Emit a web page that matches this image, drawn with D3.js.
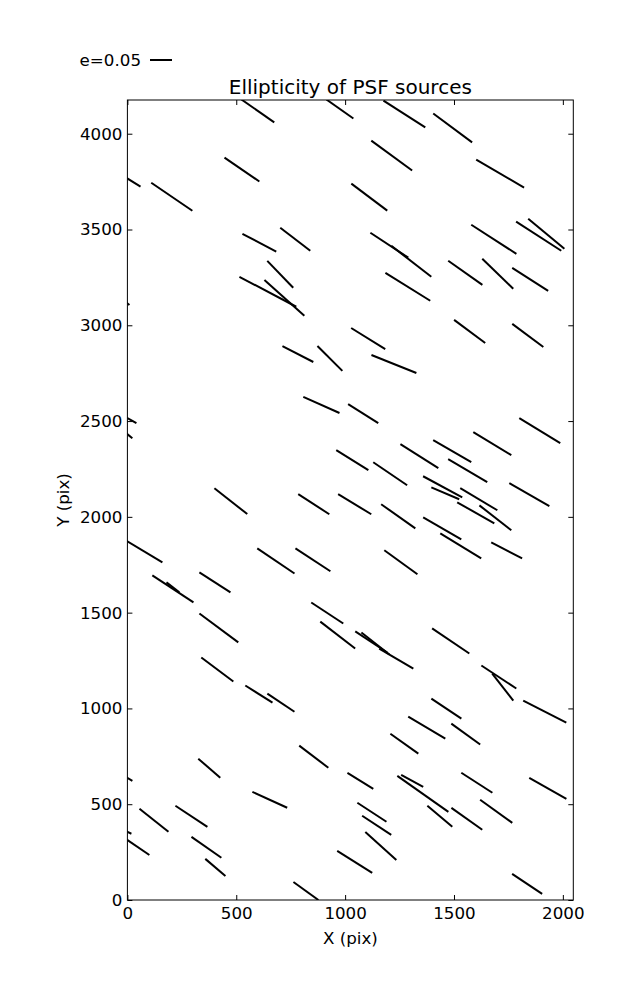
<!DOCTYPE html>
<html><head><meta charset="utf-8">
<script src="https://cdn.jsdelivr.net/npm/d3@7"></script>
<style>body{margin:0;background:#fff}svg text{font-family:"DejaVu Sans",sans-serif}</style>
</head><body>
<svg id="c" width="637" height="1000"></svg>
<script>
// Source centres (pix), ellipticity and position angle (deg, screen frame)
const srcX=[599,976,1272,1494,1214,526,1712,-18,204,1111,606,771,1203,1304,1683,1889,1924,702,645,721,1288,1552,1701,1850,-64,1572,1839,1106,783,930,1224,891,1083,-39,-49,1894,1676,1492,1341,1033,1207,1563,1448,1460,1614,1600,1690,1846,475,856,1044,1244,1446,1531,1742,62,682,852,1256,209,209,402,420,413,604,705,918,966,1120,1139,1235,1485,1706,1724,1465,1917,1375,1554,1272,856,376,1070,1605,1931,1357,1308,1435,1559,1694,1836,654,1123,1145,1164,1044,820,122,294,25,363,404,-56,-65];
const srcY=[4119,4129,4103,4030,3886,3813,3792,3779,3671,3669,3431,3449,3418,3334,3449,3465,3478,3266,3175,3143,3201,3274,3269,3240,3169,2968,2947,2931,2850,2827,2798,2584,2539,2540,2476,2450,2382,2343,2317,2296,2225,2241,2157,2123,2092,2021,1995,2116,2082,2066,2066,2003,1940,1849,1825,1830,1770,1776,1763,1624,1632,1658,1420,1203,1075,1030,1498,1383,1347,1339,1260,1352,1164,1111,999,983,900,866,816,748,688,622,612,583,554,622,437,424,463,84,523,458,390,282,199,47,416,437,294,275,170,676,390];
const srcE=[0.091,0.075,0.113,0.110,0.115,0.096,0.126,0.091,0.113,0.102,0.087,0.086,0.103,0.115,0.122,0.122,0.107,0.085,0.146,0.122,0.120,0.095,0.098,0.097,0.091,0.088,0.088,0.091,0.079,0.080,0.110,0.090,0.081,0.091,0.091,0.109,0.101,0.100,0.102,0.086,0.093,0.103,0.101,0.069,0.098,0.097,0.092,0.105,0.095,0.084,0.088,0.095,0.100,0.109,0.079,0.114,0.102,0.095,0.093,0.112,0.037,0.084,0.110,0.091,0.073,0.074,0.087,0.100,0.087,0.081,0.090,0.102,0.095,0.078,0.082,0.110,0.098,0.081,0.078,0.083,0.066,0.069,0.084,0.097,0.142,0.057,0.074,0.086,0.090,0.082,0.087,0.079,0.079,0.095,0.094,0.070,0.084,0.087,0.091,0.083,0.060,0.091,0.091];
const srcTheta=[-34.9,-35.1,-32.7,-36.6,-36.2,-34.4,-30.3,-31.6,-34.3,-36.9,-27.9,-37.5,-33.3,-37.8,-32.8,-32.8,-39.8,-46.1,-27.8,-42,-31.9,-35.2,-44.1,-32.6,-37,-36.6,-36.6,-31.7,-27.3,-45,-21.8,-24.0,-32.3,-29,-38.7,-31.4,-31.2,-30.1,-32.3,-32,-34.1,-30.5,-28.3,-23.2,-30.7,-29.6,-38,-29.9,-38.2,-32.8,-31.2,-35.2,-30.1,-31.4,-27.3,-31,-34,-33.3,-36,-33.4,-37.6,-32.8,-36.6,-36.9,-32.2,-33.7,-33.3,-37.6,-33.3,-38.2,-30.5,-34,-33.3,-52.1,-33.7,-27.1,-30.7,-35.9,-35.5,-37.2,-40.8,-31.6,-32.8,-29.6,-35.2,-28.6,-40,-35.4,-35.7,-33.7,-24.6,-33.2,-33.2,-42.1,-32.2,-35.8,-38.4,-33.3,-34.3,-35,-40.4,-31,-25];
const xTicks=[0,500,1000,1500,2000];
const yTicks=[0,500,1000,1500,2000,2500,3000,3500,4000];
const xDomain=[0,2048], yDomain=[0,4176];
const legendE=0.05;
const titleText="Ellipticity of PSF sources";
const xLabel="X (pix)", yLabel="Y (pix)";

const svg=d3.select("#c");
const L=127.4,R=573.3,T=100,B=900;
const x=d3.scaleLinear().domain(xDomain).range([L,R]);
const y=d3.scaleLinear().domain(yDomain).range([B,T]);
const len=d3.scaleLinear().domain([0,legendE]).range([0,22]);
const FS=16.7;

svg.append("defs").append("clipPath").attr("id","clip").append("rect")
  .attr("x",L).attr("y",T).attr("width",R-L).attr("height",B-T);

const data=srcX.map((v,i)=>({x:v,y:srcY[i],e:srcE[i],t:srcTheta[i]}));
svg.append("g").attr("clip-path","url(#clip)").selectAll("line").data(data).join("line")
  .each(function(d){
    const h=len(d.e)/2, a=d.t*Math.PI/180;
    const cx=x(d.x), cy=y(d.y), dx=h*Math.cos(a), dy=-h*Math.sin(a);
    d3.select(this).attr("x1",cx-dx).attr("y1",cy-dy).attr("x2",cx+dx).attr("y2",cy+dy);
  })
  .attr("stroke","#000").attr("stroke-width",2);

function style(g){g.select(".domain").remove();g.selectAll("text").attr("font-size",FS).attr("font-family","DejaVu Sans").attr("fill","#000");g.selectAll("line").attr("stroke","#000");}
svg.append("g").attr("transform",`translate(0,${B})`).call(d3.axisBottom(x).tickValues(xTicks).tickSize(-5).tickPadding(7).tickFormat(d3.format("d"))).call(style);
svg.append("g").attr("transform",`translate(0,${T})`).call(d3.axisTop(x).tickValues(xTicks).tickSize(-5).tickFormat("")).call(style);
svg.append("g").attr("transform",`translate(${L},0)`).call(d3.axisLeft(y).tickValues(yTicks).tickSize(-5).tickPadding(5).tickFormat(d3.format("d"))).call(style);
svg.append("g").attr("transform",`translate(${R},0)`).call(d3.axisRight(y).tickValues(yTicks).tickSize(-5).tickFormat("")).call(style);

svg.append("rect").attr("x",L).attr("y",T).attr("width",R-L).attr("height",B-T)
  .attr("fill","none").attr("stroke","#000").attr("stroke-width",1);

svg.append("text").attr("x",(L+R)/2).attr("y",94).attr("text-anchor","middle").attr("font-size",20).text(titleText);
svg.append("text").attr("x",(L+R)/2).attr("y",944).attr("text-anchor","middle").attr("font-size",FS).text(xLabel);
svg.append("text").attr("transform",`translate(69,${(T+B)/2}) rotate(-90)`).attr("text-anchor","middle").attr("font-size",FS).text(yLabel);

// legend
svg.append("text").attr("x",141).attr("y",66).attr("text-anchor","end").attr("font-size",FS).text("e="+legendE.toFixed(2));
svg.append("line").attr("x1",150).attr("x2",150+len(legendE)).attr("y1",60).attr("y2",60).attr("stroke","#000").attr("stroke-width",2);
</script>
</body></html>
